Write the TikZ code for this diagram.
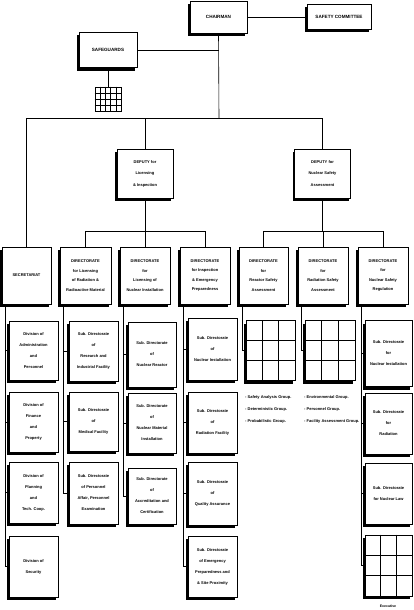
\documentclass[tikz,border=0pt]{standalone}
\usepackage{fontspec}
\setmainfont{Liberation Sans}
\usetikzlibrary{shadows,calc}
\newcommand{\mygrid}[3]{%
  \foreach \f in {#2} \draw[ln] ($(#1.north west)!\f!(#1.north east)$) -- ($(#1.south west)!\f!(#1.south east)$);
  \foreach \f in {#3} \draw[ln] ($(#1.north west)!\f!(#1.south west)$) -- ($(#1.north east)!\f!(#1.south east)$);}
\tikzset{
  ln/.style={line width=0.6pt},
  sh/.style={drop shadow={shadow xshift=-2pt,shadow yshift=-3pt,fill=black,opacity=1}},
  basebox/.style={draw,fill=white,ln,sh,inner sep=1pt,align=center},
  topbox/.style={basebox,font=\fontsize{4.6}{6}\selectfont\bfseries},
  depbox/.style={basebox,font=\fontsize{4}{11.5}\selectfont\bfseries,minimum width=56pt,minimum height=49pt},
  dirbox/.style={basebox,font=\fontsize{4}{9.5}\selectfont\bfseries,minimum height=57pt},
  subbox/.style={basebox,font=\fontsize{4}{11}\selectfont\bfseries,minimum width=49pt},
  gridbox/.style={draw,fill=white,ln,sh,minimum width=49pt,minimum height=60pt,inner sep=0pt},
  plaingrid/.style={draw,fill=white,ln,inner sep=0pt},
  lst/.style={anchor=west,inner sep=0pt,align=left,font=\fontsize{4}{12}\selectfont\bfseries},
}
\begin{document}
\begin{tikzpicture}[x=1pt,y=-1pt]
\useasboundingbox (0,0) rectangle (414,610);
% top level
\node[topbox,minimum width=57pt,minimum height=32pt] (chair) at (218.5,17) {CHAIRMAN};
\node[topbox,minimum width=64pt,minimum height=25pt] (safety) at (339,17) {SAFETY COMMITTEE};
\node[topbox,minimum width=58pt,minimum height=35pt] (safeg) at (108,50) {SAFEGUARDS};
\node[plaingrid,minimum width=26pt,minimum height=24pt] (sgrid) at (108,99) {};
\mygrid{sgrid}{0.2,0.4,0.6,0.8}{0.25,0.5,0.75}
% deputies
\node[depbox] (dli) at (145,173.5) {DEPUTY for\\Licensing\\\& Inspection};
\node[depbox] (dnsa) at (322.5,173.5) {DEPUTY for\\Nuclear Safety\\Assessment};
% directorates
\node[dirbox,minimum width=49pt] (sec) at (26.5,275.5) {SECRETARIAT};
\node[dirbox,minimum width=51pt] (lrr) at (85.5,275.5) {DIRECTORATE\\for Licensing\\of Radiation \&\\Radioactive Material};
\node[dirbox,minimum width=50pt] (lni) at (145,275.5) {DIRECTORATE\\for\\Licensing of\\Nuclear Installation};
\node[dirbox,minimum width=50pt] (iep) at (205,275.5) {DIRECTORATE\\for Inspection\\\& Emergency\\Preparedness};
\node[dirbox,minimum width=49pt] (rsa) at (263.5,275.5) {DIRECTORATE\\for\\Reactor Safety\\Assessment};
\node[dirbox,minimum width=50pt] (rad) at (323,275.5) {DIRECTORATE\\for\\Radiation Safety\\Assessment};
\node[dirbox,minimum width=50pt] (nsr) at (383,275.5) {DIRECTORATE\\for\\Nuclear Safety\\Regulation};
% secretariat children
\node[subbox,minimum height=59pt] (s1) at (33.5,350.5) {Division of\\Administration\\and\\Personnel};
\node[subbox,minimum height=60pt] (s2) at (33.5,422) {Division of\\Finance\\and\\Property};
\node[subbox,minimum height=61pt] (s3) at (33.5,492.5) {Division of\\Planning\\and\\Tech. Coop.};
\node[subbox,minimum height=61pt] (s4) at (33.5,566.5) {Division of\\Security};
% lrr children
\node[subbox,minimum height=60pt] (a1) at (93.5,351) {Sub. Directorate\\of\\Research and\\Industrial Facility};
\node[subbox,minimum height=59pt] (a2) at (93.5,421.5) {Sub. Directorate\\of\\Medical Facility};
\node[subbox,minimum height=62pt] (a3) at (93.5,493) {Sub. Directorate\\of Personnel\\Affair, Personnel\\Examination};
% lni children
\node[subbox,minimum width=48pt,minimum height=65pt] (b1) at (152,354.5) {Sub. Directorate\\of\\Nuclear Reactor};
\node[subbox,minimum width=48pt,minimum height=60pt] (b2) at (152,423) {Sub. Directorate\\of\\Nuclear Material\\Installation};
\node[subbox,minimum width=48pt,minimum height=56pt] (b3) at (152,496) {Sub. Directorate\\of\\Accreditation and\\Certification};
% iep children
\node[subbox,minimum height=62pt] (c1) at (212.5,349) {Sub. Directorate\\of\\Nuclear Installation};
\node[subbox,minimum height=61pt] (c2) at (212.5,422.5) {Sub. Directorate\\of\\Radiation Facility};
\node[subbox,minimum height=63pt] (c3) at (212.5,493.5) {Sub. Directorate\\of\\Quality Assurance};
\node[subbox,minimum height=61pt] (c4) at (212.5,566.5) {Sub. Directorate\\of Emergency\\Preparedness and\\\& Site Proximity};
% rsa / rad grids
\node[gridbox] (g1) at (270.5,350.5) {};
\mygrid{g1}{0.3333,0.6667}{0.3333,0.6667}
\node[gridbox,minimum width=50pt] (g2) at (330,350.5) {};
\mygrid{g2}{0.3333,0.6667}{0.3333,0.6667}
\node[lst] (l1) at (245,409) {- Safety Analysis Group.\\- Deterministic Group.\\- Probabilistic Group.};
\node[lst] (l2) at (304,409) {- Environmental Group.\\- Personnel Group.\\- Facility Assessment Group.};
% nsr children
\node[subbox,minimum width=47pt,minimum height=66pt] (n1) at (388.5,353.5) {Sub. Directorate\\for\\Nuclear Installation};
\node[subbox,minimum width=47pt,minimum height=61pt] (n2) at (388.5,423.5) {Sub. Directorate\\for\\Radiation};
\node[subbox,minimum width=47pt,minimum height=61pt] (n3) at (388.5,493.5) {Sub. Directorate\\for Nuclear Law};
\node[gridbox,minimum width=47pt,minimum height=61pt] (n4) at (388.5,565.5) {};
\mygrid{n4}{0.3333,0.6667}{0.3333,0.6667}
\node[inner sep=0pt,font=\fontsize{3.5}{4}\selectfont\bfseries] (exe) at (388,606) {Executive};
% coordinates
\coordinate (bus) at (219,118);
\coordinate (lbus) at (145,231);
\coordinate (rbus) at (322.5,231);
% connectors top
\draw[ln] (chair.east) -- (safety.west);
\draw[ln] (chair.south) -- (bus);
\draw[ln] (safeg.east) -- (safeg.east -| chair.south);
\draw[ln] (safeg.south) -- (sgrid.north);
\draw[ln] (sec.north |- bus) -- (dnsa.north |- bus);
\draw[ln] (sec.north |- bus) -- (sec.north);
\draw[ln] (dli.north |- bus) -- (dli.north);
\draw[ln] (dnsa.north |- bus) -- (dnsa.north);
% deputy buses
\draw[ln] (dli.south) -- (lbus);
\draw[ln] (lrr.north |- lbus) -- (iep.north |- lbus);
\foreach \d in {lrr,lni,iep} \draw[ln] (\d.north |- lbus) -- (\d.north);
\draw[ln] (dnsa.south) -- (rbus);
\draw[ln] (rsa.north |- rbus) -- (nsr.north |- rbus);
\foreach \d in {rsa,rad,nsr} \draw[ln] (\d.north |- rbus) -- (\d.north);
% spines
\foreach \d/\last/\others in {sec/s4/{s1,s2,s3}, lrr/a3/{a1,a2}, lni/b3/{b1,b2}, iep/c4/{c1,c2,c3}, nsr/n4/{n1,n2,n3}, rsa/g1/{}, rad/g2/{}}{
  \coordinate (sp) at ($(\d.south west)+(4,0)$);
  \draw[ln] (sp) |- (\last.west);
  \foreach \o in \others \draw[ln] (sp |- \o.west) -- (\o.west);
}
\end{tikzpicture}
\end{document}
